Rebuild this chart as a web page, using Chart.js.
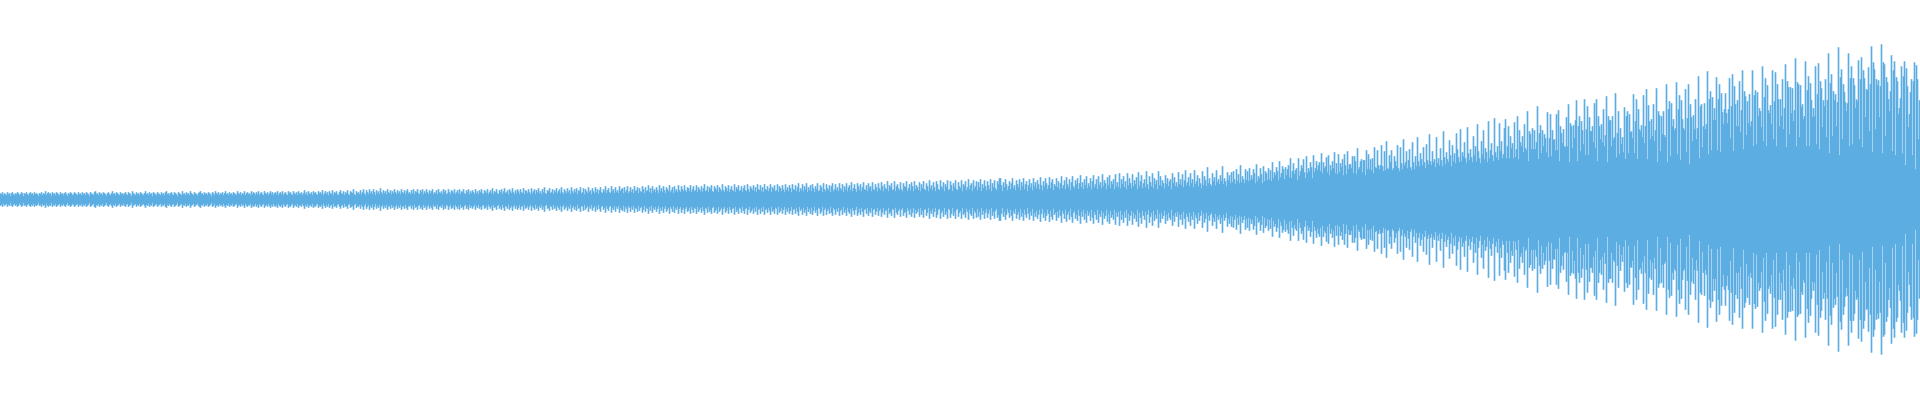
<!DOCTYPE html>
<html>
    <head>
        <meta charset="utf-8">
        <title>Waveform</title>
        <style>
            html, body { margin: 0; padding: 0; background: #fff; }
            #box { width: 1920px; height: 400px; }
        </style>
    </head>
    <body>
        <div id="box"><canvas id="chart" width="1920" height="400"></canvas></div>
        <script src="https://cdn.jsdelivr.net/npm/chart.js"></script>
        <script type="text/javascript">
            // half height of each column
            var ampStart = [
                6,5,7,4,6,5,4,7,5,6,3,6,7,5,4,6,5,7,6,4,5,7,6,3,6,5,7,5,4,6,7,5,6,4,7,5,6,5,3,6,
                5,7,4,6,5,8,4,6,7,5,6,3,7,5,6,4,7,6,5,4,7,5,6,4,6,7,5,3,6,5,7,6,4,5,7,6,5,4,7,5,
                6,4,7,5,6,4,7,6,5,3,7,6,5,4,7,8,5,6,4,7,5,6,4,7,6,5,3,6,7,5,4,6,8,5,6,4,7,6,5,4,
                7,5,6,4,6,7,5,4,7,6,5,3,8,6,5,4,7,5,6,4,7,6,5,4,6,8,5,6,4,7,5,6,3,7,6,5,4,7,6,5,
                4,7,5,6,4,7,8,5,6,4,6,7,5,4,7,6,5,3,7,6,5,4,8,5,6,4,7,5,6,4,8,6,5,4,7,6,5,4,6,7,
                8,5,6,4,7,5,6,4,7,6,5,3,7,6,4,8,6,5,7,4,6,5,7,4,6,8,5,6,4,7,5,6,4,7,6,5,4,8,6,5,
                7,4,6,5,8,4,6,7,5,6,4,8,5,7,6,4,7,5,8,4,6,7,5,4,8,6,5,7,4,6,8,5,7,4,6,7,5,8,4,6,
                7,5,8,4,6,7,5,4,8,6,7,5,4,8,6,5,7,4,8,6,5,7,4,6,9,5,7,4,8,6,5,7,4,8,6,7,5,4,8,6,
                7,5,9,4,6,8,5,7,4,8,6,5,9,4,7,6,8,5,4,7,9,6,5,8,4,7,6,9,5,4,8,7,6,10,5,4,8,6,7,5,
                9,5,7,10,6,4,9,7,5,10,6,8,5,10,7,4,9,6,8,5,11,7,5,9,6,8,5,10,7,6,9,5,8,6,10,7,5,9,6,8,
                5,10,7,6,9,5,8,10,6,7,5,9,6,10,5,8,7,10,6,5,9,7,10,5,8,6,10,7,5,9,6,8,10,5,7,6,9,5,10,7,
                6,8,5,10,7,9,5,6,10,7,5,9,8,6,10,5,7,9,6,10,5,8,7,10,6,5,9,7,10,5,8,6,9,7,5,10,6,8,5,9,
                7,10,6,5,9,8,6,10,5,7,9,6,11,5,8,7,10,6,5,9,7,10,5,8,11,6,7,9,5,10,8,6,11,7,5,9,6,10,8,5,
                10,7,6,11,5,9,8,6,10,7,5,11,6,8,10,5,9,7,11,6,8,5,10,7,12,6,5,9,8,11,6,7,10,5,9,7,11,6,8,10,
                6,12,7,5,10,8,6,11,7,9,5,12,8,6,10,7,11,5,9,8,12,6,7,11,5,10,8,6,12,7,9,5,11,8,6,12,7,10,5,9,
                12,7,6,10,8,13,6,9,11,7,6,13,8,10,6,12,7,9,6,13,8,10,11,6,12,7,9,13,6,8,12,7,10,6,13,8,9,12,6,11,
                8,7,13,10,6,12,8,9,14,7,11,6,13,8,10,7,12,9,6,14,8,11,7,13,9,6,12,10,8,14,7,9,12,6,13,8,10,7,14,9,
                7,13,10,8,14,9,7,12,11,8,14,7,10,13,8,9,14,7,12,10,8,13,7,11,15,8,9,13,7,12,10,14,8,7,13,11,9,14,7,12,
                10,8,15,9,7,13,11,8,14,7,10,13,9,8,15,7,12,10,14,8,9,13,7,11,14,9,8,15,10,7,13,11,9,14,8,12,7,15,10,9,
                14,8,12,7,15,10,9,13,8,11,15,7,12,10,14,8,9,15,7,13,11,8,14,10,7,15,9,12,8,14,11,7,15,10,9,14,8,12,16,7,
                11,9,15,8,13,10,16,7,12,9,14,8,15,11,7,13,10,16,8,9,14,12,7,16,10,8,15,11,9,14,7,13,16,8,10,15,9,12,8,16,
                11,9,15,7,13,10,16,8,12,14,9,17,8,11,15,10,7,16,13,9,15,8,12,17,10,9,14,8,16,11,13,8,17,10,9,15,12,8,16,11,
                9,17,13,8,15,11,10,18,8,14,12,16,9,10,18,8,13,15,11,9,17,10,8,16,13,12,18,8,11,15,9,17,13,8,18,10,14,12,9,17,
                8,15,11,18,10,9,16,13,8,19,11,14,9,17,12,8,18,15,10,9,19,13,11,17,8,15,12,19,9,10,18,14,8,16,12,19,10,9,17,13,
                11,19,8,15,13,18,9,12,20,10,14,16,8,19,11,13,18,9,17,12,20,8,15,11,19,13,9,18,14,10,20,8,16,12,19,11,9,18,15,21
            ];
            var ampMiddle = [
                21,14,8,17,12,20,15,9,13,18,10,16,21,11,14,9,19,15,12,20,9,17,13,21,10,15,18,8,14,20,12,16,9,21,13,17,11,19,15,10,
                22,14,9,18,13,21,16,10,14,22,11,17,20,9,15,13,21,12,18,10,16,23,11,14,19,10,22,15,12,20,9,17,23,13,11,19,15,21,10,16,
                24,12,17,10,20,14,23,11,16,13,21,10,18,24,12,15,20,10,23,14,17,11,25,13,19,16,10,22,14,24,11,18,15,20,10,25,13,17,12,26,
                11,20,15,23,12,18,10,26,14,21,16,11,25,13,19,15,22,10,27,13,18,24,11,16,20,12,28,15,10,23,17,13,26,11,21,15,19,10,28,14,
                23,13,19,16,11,24,15,21,13,18,20,10,26,16,22,13,17,12,27,15,20,14,25,12,19,29,14,17,22,13,26,16,20,12,29,15,18,24,13,21,
                16,11,28,14,23,19,13,32,16,21,15,13,26,18,22,14,29,17,20,15,24,18,33,15,21,18,13,27,19,24,16,27,17,28,20,15,30,18,25,16,
                34,17,23,20,16,30,19,28,18,31,19,24,20,30,26,16,35,18,23,21,31,25,16,33,18,28,26,19,31,20,29,18,37,21,27,24,32,28,19,38,
                22,26,33,30,20,32,24,30,34,22,41,21,28,36,25,29,31,19,41,23,28,34,31,40,27,21,43,26,31,28,37,32,21,44,27,31,38,29,34,37,
                28,46,26,37,31,33,42,27,44,24,34,29,38,31,47,26,36,
                25,45,27,36,32,40,24,45,34,25,48,30,35,35,31,43,26,43,38,25,51,30,32,38,40,27,39,39,24,49,30,45,30,40,29,41,26,52,32,31,
                49,34,30,34,54,33,28,48,29,58,31,30,44,37,49,29,31,43,38,33,54,31,28,52,36,30,60,34,37,48,31,39,50,32,29,57,37,30,43,33,
                62,38,33,46,40,34,52,37,31,55,39,35,65,38,34,48,37,40,32,62,36,41,34,51,39,33,68,42,35,47,40,37,59,44,33,54,38,46,36,66,
                50,42,37,70,38,47,43,57,41,36,72,46,39,50,42,37,63,44,53,38,75,48,41,36,58,45,69,40,51,47,37,78,41,49,56,44,38,81,47,42,
                53,39,76,48,58,41,45,71
            ];
            var ampLate = [
                80,41,53,73,41,63,51,56,41,77,42,50,83,40,69,57,53,63,47,75,51,49,88,38,68,65,50,71,50,69,50,57,93,40,66,74,46,69,53,65,
                61,47,87,42,61,85,43,69,59,60,49,85,49,89,38,73,66,56,70,53,52,82,53,95,37,76,73,51,74,61,79,99,38,73,83,48,78,69,55,100,
                44,70,93,44,82,68,68,73,57,96,51,100,38,83,73,60,75,57,90,53,64,103,37,83,79,79,53,83,60,62,106,42,66,88,45,71,55,62,47,92,
                40,83,88,46,85,67,68,61,105,46,78,100,40,90,70,68,74,62,104,56,73,110,40,94,78,60,80,63,95,58,69,111,37,88,84,48,83,65,88,64,
                62,115,37,90,98,43,96,73,80,69,71,117,45,90,104,39,99,80,71,69,110,47,81,115,35,95,82,58,84,70,100,60,71,123,41,93,95,52,73,96,
                70,75,128,45,100,108,49,102,79,91,79,122,49,100,115,47,106,87,75,90
            ];
            var ampEnd = [
                106,86,76,90,121,61,93,125,48,113,95,73,99,73,118,67,89,129,50,108,103,64,98,76,105,73,78,129,53,104,109,55,107,83,91,88,72,133,58,102,
                121,53,114,89,86,94,75,129,60,98,127,53,115,100,73,100,83,120,70,91,135,52,118,112,65,112,86,111,78,89,141,53,117,115,62,114,92,95,80,83,
                138,53,109,123,53,116,99,82,91,83,133,55,105,136,50,118,111,72,99,93,120,62,99,146,46,116,125,63,108,99,105,73,97,152,44,122,130,60,115,107,
                97,88,96,146,53,121,133,55,121,114,91,100,98,139,60,120,142,52,129,121,82,110,109,132,68,115,153,47,137,130,70,120,114,119,82,113,155,46,137,135,
                63,122,117,100,88,108,144,48,129,138,44,122,118,85,91,101,133,46,123,138,34,131,113,72,85,107,120,44,118,137,30,134,120,60,99,112,112,58,100,102
            ];

            var amps = ampStart.concat(ampMiddle, ampLate, ampEnd);
            var columnCount = 1920;
            var columns = [];
            for (var i = 0; i < columnCount; i++) columns.push(i);

            var ctx = document.getElementById("chart");
            var chart = new Chart(ctx, {
                type: "bar",
                data: {
                    labels: columns,
                    datasets: [{
                        data: amps.map(function (a) { return [-a, a]; }),
                        backgroundColor: "#5dade2",
                        borderWidth: 0,
                        barPercentage: 1,
                        categoryPercentage: 1,
                    }],
                },
                options: {
                    responsive: false,
                    devicePixelRatio: 1,
                    animation: false,
                    layout: { padding: 0 },
                    scales: {
                        x: { display: false },
                        y: { display: false, min: -200.5, max: 199.5 },
                    },
                    plugins: {
                        legend: { display: false },
                        tooltip: { enabled: false },
                    },
                },
            });
        </script>
    </body>
</html>
